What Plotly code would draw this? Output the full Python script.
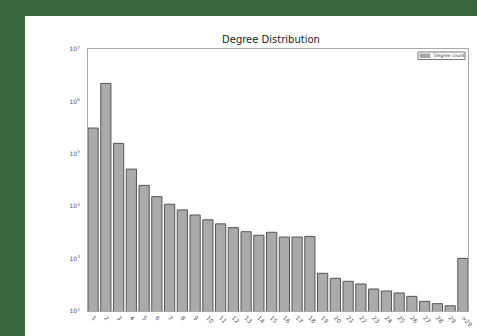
import plotly.graph_objects as go

# Degree buckets and how many nodes fall into each
degrees = [str(d) for d in range(1, 30)] + [">29"]
counts = [310000, 2200000, 158000, 51000, 25000, 15200, 10900, 8500, 6800, 5500,
          4600, 3900, 3260, 2790, 3180, 2580, 2580, 2650, 524, 421,
          369, 328, 263, 241, 221, 190, 153, 138, 126, 1010]
y_ticks = [100, 1000, 10000, 100000, 1000000, 10000000]
y_tick_text = ["10<sup>2</sup>", "10<sup>3</sup>", "10<sup>4</sup>",
               "10<sup>5</sup>", "10<sup>6</sup>", "10<sup>7</sup>"]
series_name = "Degree count"

W, H = 477, 336
L, R, T, B = 88, 9, 49, 25
pw, ph = W - L - R, H - T - B
GREEN = "#3a683e"


def px_x(x):
    return (x - L) / pw


def px_y(y):
    return (H - B - y) / ph


fig = go.Figure()
fig.add_trace(go.Bar(
    x=degrees, y=counts, name=series_name, showlegend=False,
    marker=dict(color="#aaaaaa", line=dict(color="#555555", width=1)),
))

# green frame along the top and left of the page
fig.add_shape(type="rect", xref="paper", yref="paper",
              x0=px_x(-5), x1=px_x(W + 5), y0=px_y(16), y1=px_y(-5),
              fillcolor=GREEN, line=dict(width=0), layer="below")
fig.add_shape(type="rect", xref="paper", yref="paper",
              x0=px_x(-5), x1=px_x(25), y0=px_y(H + 5), y1=px_y(-5),
              fillcolor=GREEN, line=dict(width=0), layer="below")

# compact legend box in the upper-right corner
fig.add_shape(type="rect", xref="paper", yref="paper",
              x0=px_x(418), x1=px_x(465), y0=px_y(59.5), y1=px_y(52),
              fillcolor="white", line=dict(color="#777777", width=1))
fig.add_shape(type="rect", xref="paper", yref="paper",
              x0=px_x(420), x1=px_x(430), y0=px_y(57.5), y1=px_y(54),
              fillcolor="#aaaaaa", line=dict(color="#777777", width=0.5))
fig.add_annotation(xref="paper", yref="paper", x=px_x(431.5), y=px_y(55.8),
                   xanchor="left", yanchor="middle", showarrow=False,
                   text=series_name,
                   font=dict(family="DejaVu Sans", size=4.5, color="#333333"))

fig.update_layout(
    width=W, height=H,
    margin=dict(l=L, r=R, t=T, b=B, pad=0, autoexpand=False),
    paper_bgcolor="white", plot_bgcolor="white",
    bargap=0.2,
    showlegend=False,
    title=dict(text="Degree Distribution", x=px_x(271), xref="paper",
               xanchor="center", y=1 - 39 / H, yanchor="middle",
               font=dict(family="DejaVu Sans", size=10, color="#222222")),
    xaxis=dict(type="category", range=[-0.4, 29.4], showline=True, mirror=True,
               linecolor="#aaaaaa", linewidth=1, showgrid=False, ticks="",
               tickangle=45, automargin=False,
               tickfont=dict(family="DejaVu Sans", size=6, color="#555555")),
    yaxis=dict(type="log", range=[2, 7], showline=True, mirror=True,
               linecolor="#aaaaaa", linewidth=1, showgrid=False, ticks="",
               tickvals=y_ticks, ticktext=y_tick_text, ticklabelstandoff=6,
               automargin=False,
               tickfont=dict(family="DejaVu Sans", size=6, color="#555555")),
)

fig.write_html("out.html")
